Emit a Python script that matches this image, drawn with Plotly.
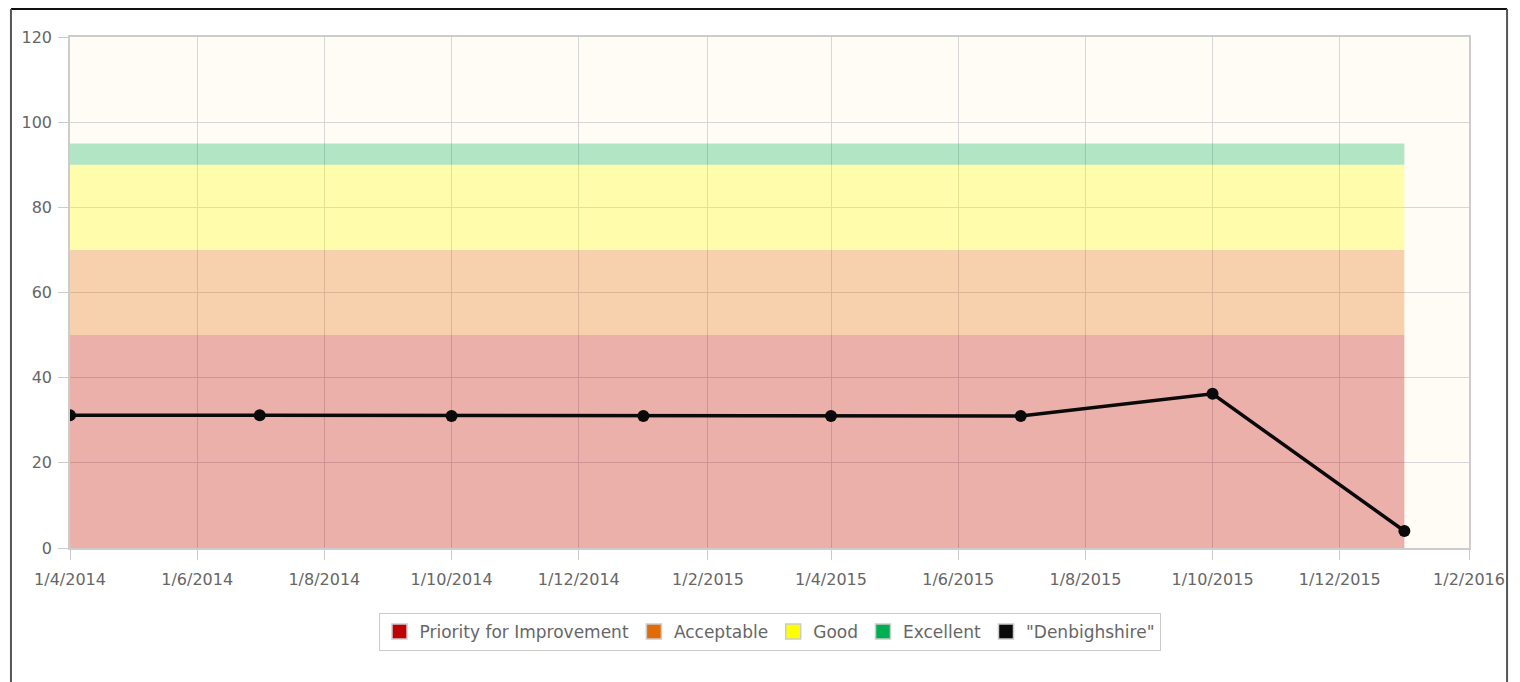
import plotly.graph_objects as go

# ---- data ----
dates = ["2014-04-01", "2014-07-01", "2014-10-01", "2015-01-01",
         "2015-04-01", "2015-07-01", "2015-10-01", "2016-01-01"]
denbighshire = [31.2, 31.2, 31.0, 31.0, 31.0, 31.0, 36.2, 4.0]

band_dates = ["2014-04-01", "2016-01-01"]
band_names = ["Priority for Improvement", "Acceptable", "Good", "Excellent"]
band_tops = [50, 70, 90, 95]
band_colors = ["#C00000", "#E36C09", "#FFFF00", "#00B050"]
band_fills = ["rgba(192,0,0,0.3)", "rgba(227,108,9,0.3)",
              "rgba(255,255,0,0.3)", "rgba(0,176,80,0.3)"]
series_name = '"Denbighshire"'
series_color = "#0A0A0A"

FONT = "DejaVu Sans"
TXT = "#666666"

fig = go.Figure()

for i, (name, top, fill) in enumerate(zip(band_names, band_tops, band_fills)):
    fig.add_trace(go.Scatter(
        x=band_dates, y=[top, top], mode="lines",
        line=dict(width=0, color=fill),
        fill="tozeroy" if i == 0 else "tonexty",
        fillcolor=fill, name=name, showlegend=False, hoverinfo="skip"))

fig.add_trace(go.Scatter(
    x=dates, y=denbighshire, mode="lines+markers", name=series_name,
    line=dict(color=series_color, width=3.5),
    marker=dict(color=series_color, size=12), showlegend=False))

# legend swatches
for name, col in zip(band_names + [series_name], band_colors + [series_color]):
    fig.add_trace(go.Scatter(
        x=[None], y=[None], mode="markers", name=name,
        marker=dict(symbol="square", size=15, color=col,
                    line=dict(color="#CCCCCC", width=1.5))))

# page body has an 8px margin: plot area should land at x 70..1469, y 37..548
fig.update_layout(
    width=1520, height=682,
    margin=dict(l=62, r=59, t=29, b=142),
    paper_bgcolor="white",
    plot_bgcolor="#FFFCF5",
    font=dict(family=FONT, size=16, color=TXT),
    legend=dict(orientation="h", x=0.5, xanchor="center",
                y=-0.127, yanchor="top", traceorder="normal",
                bordercolor="#CCCCCC", borderwidth=1,
                font=dict(family=FONT, size=17, color=TXT),
                itemwidth=30, tracegroupgap=0),
    xaxis=dict(type="date", range=["2014-04-01", "2016-02-01"],
               tick0="2014-04-01", dtick="M2", tickformat="%-d/%-m/%Y",
               showgrid=True, gridcolor="#D6D6D6", gridwidth=1,
               showline=True, linecolor="#CCCCCC", linewidth=1.5, mirror=True,
               ticks="outside", ticklen=10, tickcolor="#CCCCCC",
               ticklabelstandoff=6,
               tickfont=dict(family=FONT, size=16, color=TXT),
               zeroline=False),
    yaxis=dict(range=[0, 120], dtick=20,
               showgrid=True, gridcolor="#D6D6D6", gridwidth=1,
               showline=True, linecolor="#CCCCCC", linewidth=1.5, mirror=True,
               ticks="outside", ticklen=10, tickcolor="#CCCCCC",
               ticklabelstandoff=3,
               tickfont=dict(family=FONT, size=16, color=TXT),
               zeroline=False),
    hovermode="closest",
)

# outer frame (figure px: left 3, right 1499, top 1)
L, R, T, B = -0.0422, 1.0272, 1.0548, -0.32
fig.add_shape(type="line", xref="paper", yref="paper", x0=L, x1=R, y0=T, y1=T,
              line=dict(color="#111111", width=2))
fig.add_shape(type="line", xref="paper", yref="paper", x0=L, x1=L, y0=B, y1=T,
              line=dict(color="#555555", width=2))
fig.add_shape(type="line", xref="paper", yref="paper", x0=R, x1=R, y0=B, y1=T,
              line=dict(color="#555555", width=2))

fig.write_html("out.html")
